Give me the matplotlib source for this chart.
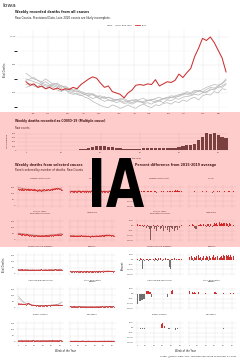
import numpy as np
import matplotlib
matplotlib.use("Agg")
import matplotlib.pyplot as plt
from matplotlib.patches import Rectangle, PathPatch
from matplotlib.textpath import TextPath
from matplotlib.font_manager import FontProperties
from matplotlib.transforms import Affine2D

# ---- all-cause weekly deaths, Iowa ----
weeks = list(range(1, 53))
month_labels = ["Jan", "Feb", "Mar", "Apr", "May", "Jun", "Jul", "Aug", "Sep", "Oct", "Nov", "Dec"]
month_weeks = [2.8, 6.6, 11.7, 15.8, 19.6, 24.7, 28.6, 32.4, 37.5, 41.3, 46.2, 50.2]

deaths_2020 = [680, 655, 665, 640, 650, 630, 640, 625, 635, 620, 630, 625, 640, 630, 660, 680, 700, 715,
               705, 670, 640, 650, 610, 600, 590, 565, 600, 620, 655, 660, 655, 665, 660, 695, 650, 665,
               680, 675, 690, 735, 710, 745, 775, 860, 920, 990, 975, 1000, 960, 905, 850, 750]
deaths_2015 = [700, 690, 680, 670, 660, 650, 640, 660, 650, 630, 620, 610, 600, 590, 580, 590, 575, 560,
               570, 555, 540, 550, 545, 530, 540, 525, 530, 520, 535, 540, 525, 530, 520, 540, 545, 530,
               550, 545, 560, 555, 570, 575, 580, 590, 585, 600, 610, 620, 630, 640, 650, 670]
deaths_2016 = [660, 670, 650, 640, 645, 630, 650, 640, 620, 610, 625, 600, 590, 600, 585, 570, 560, 540,
               525, 510, 500, 495, 515, 505, 490, 500, 515, 500, 490, 510, 520, 505, 495, 515, 510, 525,
               530, 520, 540, 530, 550, 540, 560, 570, 550, 580, 590, 585, 610, 600, 630, 625]
deaths_2017 = [740, 720, 700, 690, 670, 680, 660, 650, 640, 655, 630, 620, 610, 615, 600, 590, 600, 585,
               575, 580, 565, 570, 560, 550, 555, 560, 545, 550, 540, 555, 560, 545, 550, 560, 570, 555,
               565, 580, 575, 590, 585, 600, 595, 610, 620, 605, 625, 640, 635, 650, 665, 690]
deaths_2018 = [690, 700, 710, 690, 680, 700, 680, 660, 670, 650, 640, 630, 620, 610, 605, 590, 580, 590,
               570, 560, 575, 550, 540, 555, 545, 535, 540, 530, 545, 535, 540, 550, 545, 530, 550, 560,
               555, 570, 565, 580, 600, 590, 585, 600, 615, 610, 600, 630, 620, 645, 640, 660]
deaths_2019 = [640, 650, 660, 645, 670, 660, 650, 670, 660, 640, 650, 630, 620, 625, 610, 600, 590, 595,
               580, 570, 560, 570, 555, 545, 560, 550, 535, 545, 555, 540, 530, 545, 555, 550, 540, 560,
               570, 565, 580, 575, 590, 610, 600, 620, 610, 625, 640, 650, 660, 655, 670, 700]

# ---- COVID-19 weekly deaths ----
covid_2020 = [0, 0, 0, 0, 0, 0, 0, 0, 0, 0, 0, 2, 5, 10, 20, 35, 55, 75, 90, 95, 90, 85, 75, 55, 40, 30,
              25, 25, 30, 35, 40, 45, 45, 50, 55, 50, 45, 50, 60, 80, 100, 120, 130, 140, 250, 330, 420,
              400, 405, 360, 310, 295]

# ---- selected causes (2020 red, two earlier years gray) ----
heart_2020 = [135, 128, 132, 126, 130, 138, 125, 129, 133, 127, 131, 124, 136, 130, 128, 134, 126, 129, 132, 125,
              130, 127, 121, 128, 124, 130, 126, 122, 129, 125, 131, 127, 123, 130, 126, 132, 128, 124, 133, 129,
              135, 131, 138, 134, 140, 137, 142, 139, 136, 133, 130, 128]
heart_g1 = [150, 145, 148, 142, 140, 138, 136, 139, 134, 132, 135, 130, 128, 131, 126, 124, 127, 122, 125, 120,
            123, 118, 121, 119, 116, 120, 117, 119, 115, 118, 121, 117, 120, 123, 119, 122, 125, 121, 124, 127,
            130, 126, 129, 133, 131, 135, 138, 134, 140, 137, 142, 145]
heart_g2 = [142, 147, 140, 144, 138, 141, 135, 137, 133, 136, 130, 129, 132, 127, 125, 128, 123, 126, 121, 124,
            119, 122, 118, 121, 117, 115, 119, 116, 120, 118, 114, 117, 121, 119, 123, 120, 118, 124, 122, 126,
            124, 128, 127, 131, 129, 133, 136, 132, 138, 135, 139, 143]
heart_pct = [-3, 2, -5, 4, 1, 6, -2, 3, 5, -4, 2, -6, 8, 4, -1, 7, 3, -2, 5, -3, 6, 4, -8, 2, -5, 9, 3, -4, 6, -2,
             5, 1, -6, 4, 7, 3, -1, 5, 8, 2, 10, 6, 12, 9, 15, 11, 14, 10, 6, 4, -2, 3]

cancer_2020 = [112, 118, 115, 110, 117, 113, 119, 114, 111, 116, 120, 113, 117, 109, 115, 118, 112, 116, 110, 114,
               119, 113, 117, 111, 115, 120, 114, 108, 116, 112, 118, 113, 117, 110, 114, 119, 115, 111, 116, 113,
               118, 112, 117, 114, 110, 116, 119, 113, 117, 111, 115, 118]
cancer_g1 = [118, 114, 120, 116, 112, 119, 115, 117, 113, 118, 114, 121, 116, 112, 118, 115, 119, 113, 117, 120,
             114, 116, 112, 118, 115, 119, 113, 117, 114, 120, 116, 112, 118, 115, 119, 113, 117, 121, 115, 118,
             114, 120, 116, 113, 119, 115, 117, 121, 114, 118, 116, 120]
cancer_g2 = [114, 119, 113, 117, 121, 115, 118, 112, 116, 120, 113, 117, 115, 119, 111, 116, 118, 114, 120, 113,
             117, 115, 119, 112, 116, 121, 114, 118, 113, 117, 119, 115, 112, 118, 116, 120, 113, 117, 115, 119,
             112, 118, 116, 114, 120, 117, 113, 119, 115, 118, 121, 116]
cancer_pct = [-4, 3, -2, -6, 2, -3, 5, -1, -4, 2, 6, -5, 1, -7, -2, 4, -3, 2, -6, -1, 5, -3, 2, -5, 0, 4, -2, -8,
              3, -4, 2, -1, 3, -6, -2, 5, 1, -4, 2, -3, 4, -5, 1, -2, -7, 3, 5, -4, 2, -6, -18, 3]

clrd_2020 = [48, 44, 50, 42, 46, 40, 45, 43, 38, 41, 44, 36, 40, 35, 38, 33, 36, 34, 31, 35, 32, 36, 30, 34, 31, 33,
             29, 32, 35, 30, 33, 31, 34, 36, 32, 35, 33, 37, 34, 38, 36, 35, 39, 37, 41, 38, 42, 40, 43, 39, 41, 44]
clrd_g1 = [55, 52, 56, 50, 53, 49, 51, 47, 50, 45, 48, 44, 46, 42, 44, 40, 42, 39, 41, 37, 39, 36, 38, 35, 37, 34,
           36, 35, 33, 36, 34, 37, 35, 38, 36, 39, 37, 40, 38, 41, 40, 42, 41, 44, 43, 45, 47, 46, 49, 48, 51, 53]
clrd_g2 = [50, 54, 49, 52, 47, 51, 46, 49, 44, 47, 43, 45, 41, 44, 40, 42, 38, 40, 37, 39, 35, 38, 34, 36, 33, 35,
           34, 32, 35, 33, 36, 34, 37, 35, 38, 36, 39, 38, 41, 39, 42, 41, 43, 42, 45, 44, 46, 48, 47, 50, 49, 52]
clrd_pct = [15, 10, 20, 8, 12, -5, 10, -15, 6, -40, 8, -25, 4, -10, -30, -150, -20, -10, -45, 5, -30, -8, -55, 3,
            -15, -60, -10, -35, -20, 4, -50, -6, -25, -15, 8, -40, -12, -70, -8, -20, -35, -10, 6, -50, -25, -15,
            -45, -5, -20, -10, -30, 5]

alz_2020 = [34, 30, 33, 29, 35, 31, 28, 32, 30, 34, 29, 33, 31, 36, 32, 30, 34, 29, 33, 31, 28, 32, 30, 27, 31, 29,
            33, 30, 28, 32, 30, 34, 31, 29, 33, 35, 32, 36, 34, 38, 35, 39, 37, 41, 38, 36, 40, 37, 35, 38, 34, 33]
alz_g1 = [36, 33, 35, 32, 34, 31, 33, 30, 32, 29, 31, 30, 28, 30, 27, 29, 28, 26, 28, 27, 25, 27, 26, 28, 25, 27,
          26, 24, 26, 28, 25, 27, 26, 28, 27, 29, 28, 30, 29, 31, 30, 32, 31, 33, 32, 34, 33, 35, 34, 36, 35, 37]
alz_g2 = [32, 35, 31, 34, 30, 33, 29, 32, 30, 28, 31, 29, 27, 30, 28, 26, 29, 27, 25, 28, 26, 27, 25, 26, 28, 24,
          27, 25, 27, 26, 28, 25, 27, 29, 26, 28, 30, 27, 29, 31, 28, 30, 32, 29, 31, 33, 30, 32, 34, 31, 33, 35]
alz_pct = [5, -8, 10, -3, 15, 6, -20, -35, -30, -25, -10, 4, 12, 20, 8, -5, 18, -12, 25, 10, -8, 15, 20, -15, 22,
           12, 28, -10, 8, 25, 18, 30, 10, -5, 22, 35, 15, 28, 20, 30, 25, 35, 18, 28, 22, -10, 30, 15, -5, 20, 10, 12]

cere_2020 = [35, 31, 34, 30, 36, 32, 29, 33, 31, 35, 30, 34, 32, 28, 33, 31, 29, 34, 30, 32, 28, 33, 31, 29, 34, 30,
             32, 36, 31, 29, 33, 30, 34, 32, 28, 33, 31, 35, 30, 34, 32, 29, 33, 36, 31, 34, 30, 33, 35, 31, 34, 32]
cere_g1 = [36, 33, 35, 31, 34, 32, 30, 33, 35, 31, 32, 30, 33, 29, 31, 32, 30, 28, 31, 29, 32, 30, 28, 31, 29, 30,
           32, 28, 30, 31, 29, 32, 30, 31, 29, 32, 30, 33, 31, 32, 34, 31, 33, 32, 34, 33, 35, 32, 34, 36, 33, 35]
cere_g2 = [33, 36, 32, 34, 30, 33, 31, 29, 32, 30, 33, 31, 29, 31, 28, 30, 32, 29, 31, 28, 30, 29, 31, 27, 30, 28,
           31, 29, 30, 28, 31, 29, 32, 30, 31, 33, 29, 32, 31, 33, 30, 32, 34, 31, 33, 32, 35, 33, 34, 32, 35, 34]
cere_pct = [8, -5, 12, -10, 15, 3, -100, 6, -8, 12, -4, 10, 5, -15, 12, 4, -6, 15, -3, 10, -12, 14, 6, -8, 15, 3,
            -5, 18, 2, -10, 12, -3, 15, 8, -12, 10, 4, -80, -100, 6, 12, -5, 10, 15, -3, 8, -6, 12, 5, -8, 10, 6]

diab_2020 = [20, 17, 19, 22, 18, 16, 20, 18, 21, 17, 19, 23, 18, 20, 16, 19, 21, 17, 20, 18, 22, 19, 17, 21, 18, 20,
             16, 19, 22, 18, 20, 17, 21, 19, 23, 18, 20, 22, 19, 24, 21, 23, 20, 25, 22, 24, 21, 23, 20, 22, 19, 21]
diab_g1 = [19, 17, 18, 16, 19, 17, 18, 15, 17, 19, 16, 18, 15, 17, 16, 18, 15, 17, 16, 14, 17, 15, 16, 18, 15, 17,
           14, 16, 15, 17, 16, 18, 15, 17, 16, 18, 17, 15, 18, 16, 17, 19, 16, 18, 17, 19, 18, 17, 19, 18, 20, 19]
diab_g2 = [17, 19, 16, 18, 17, 15, 18, 16, 17, 15, 18, 16, 14, 17, 15, 16, 18, 15, 14, 16, 15, 17, 14, 16, 15, 13,
           16, 15, 17, 14, 16, 15, 17, 16, 14, 17, 16, 18, 15, 17, 16, 18, 17, 16, 18, 17, 19, 17, 18, 20, 18, 19]
diab_pct = [30, 10, 25, 40, 15, -10, 30, 20, 35, -5, 25, 45, 15, 30, -10, 20, 38, -5, 30, 15, 40, 25, -8, 35, 20, 30,
            -12, 25, 45, 18, 30, -6, 35, 25, 50, 20, 30, 40, 22, 55, 35, 45, 28, 55, 40, 50, 30, 45, 25, 40, 20, 35]

flu_2020 = [35, 32, 34, 30, 33, 29, 31, 28, 30, 27, 32, 36, 38, 35, 30, 26, 24, 22, 23, 20, 21, 19, 20, 18, 19, 17,
            18, 20, 17, 19, 18, 20, 19, 21, 18, 20, 22, 19, 21, 23, 20, 22, 24, 21, 23, 25, 22, 24, 21, 23, 20, 22]
flu_g1 = [95, 88, 80, 72, 65, 58, 50, 45, 40, 36, 33, 30, 28, 27, 25, 24, 23, 22, 21, 22, 20, 21, 19, 20, 19, 18,
          19, 20, 18, 19, 18, 20, 19, 20, 19, 21, 20, 22, 21, 23, 22, 24, 23, 25, 26, 28, 30, 32, 35, 38, 42, 48]
flu_g2 = [70, 75, 68, 62, 55, 50, 46, 42, 38, 35, 32, 30, 28, 27, 26, 24, 23, 22, 21, 20, 21, 19, 20, 18, 19, 18,
          20, 19, 18, 17, 19, 18, 20, 19, 21, 20, 22, 21, 23, 22, 24, 23, 25, 24, 26, 27, 29, 31, 33, 36, 40, 45]
flu_pct = [-105, -100, -80, -75, -72, -70, -66, -60, -55, -48,
           20, 28, 30, 26, 22, 18, -30, -25, None, None,
           None, None, None, None, None, None, None, None, None, None,
           None, None, None, None, None, -35, None, None, None, 30,
           35, -45, None, None, None, None, None, None, None, None,
           None, None]

oresp_2020 = [12, 10, 11, 9, 12, 10, 8, 11, 9, 10, 12, 9, 11, 8, 10, 9, 11, 8, 10, 9, 7, 10, 8, 9, 11, 8, 10, 9, 7,
              10, 8, 11, 9, 10, 8, 11, 9, 12, 10, 9, 11, 10, 12, 9, 11, 13, 10, 12, 11, 9, 12, 10]
oresp_g1 = [10, 9, 11, 8, 10, 9, 8, 10, 9, 7, 9, 8, 10, 8, 9, 7, 8, 9, 7, 8, 9, 7, 8, 6, 8, 7, 9, 7, 8, 6, 8, 7, 9,
            8, 7, 9, 8, 10, 8, 9, 7, 9, 8, 10, 9, 8, 10, 9, 11, 9, 10, 11]
oresp_g2 = [9, 11, 8, 10, 9, 10, 8, 9, 7, 9, 8, 9, 7, 8, 9, 7, 8, 6, 8, 7, 8, 7, 6, 8, 7, 8, 6, 8, 7, 8, 9, 7, 8, 6,
            8, 7, 9, 8, 9, 7, 8, 10, 8, 9, 10, 8, 9, 11, 9, 10, 9, 11]
oresp_pct = [25, 20, None, None, 15, 12, 18, 10, None, None,
             None, 20, None, None, None, None, None, None, None, 12,
             None, None, None, None, None, -8, None, None, None, 15,
             18, 12, None, None, None, None, None, None, None, 10,
             None, None, None, None, None, None, None, 8, None, -6,
             None, 10]

kidney_2020 = [9, 7, 10, 8, 11, 9, 7, 10, 8, 9, 11, 8, 10, 7, 9, 8, 10, 12, 8, 9, 7, 10, 8, 11, 9, 7, 10, 8, 9, 11,
               8, 10, 9, 7, 10, 8, 11, 9, 10, 8, 12, 9, 11, 8, 10, 9, 11, 8, 10, 12, 9, 10]
kidney_g1 = [10, 9, 8, 10, 9, 11, 8, 9, 10, 8, 9, 7, 9, 8, 10, 8, 9, 7, 8, 9, 8, 10, 7, 9, 8, 9, 7, 8, 10, 8, 9, 8,
             7, 9, 8, 10, 9, 8, 9, 10, 8, 9, 10, 9, 8, 10, 9, 11, 9, 10, 9, 10]
kidney_g2 = [8, 10, 9, 8, 10, 8, 9, 11, 8, 9, 8, 10, 8, 9, 7, 9, 8, 10, 9, 8, 7, 9, 8, 10, 8, 7, 9, 8, 9, 7, 10, 8,
             9, 10, 8, 9, 8, 10, 8, 9, 9, 10, 8, 9, 10, 8, 10, 9, 10, 8, 11, 9]
kidney_pct = [None, None, None, None, -8, None, -10, None, -12, None,
              None, None, None, None, None, None, None, None, None, None,
              None, None, None, None, None, None, None, None, 35, 45,
              None, 20, None, None, None, None, -15, -10, None, None,
              None, None, None, None, -20, None, -15, None, None, None,
              None, None]

sept_2020 = [6, 5, 7, 4, 6, 5, 8, 6, 5, 7, 4, 6, 5, 7, 6, 9, 5, 6, 4, 7, 5, 6, 8, 5, 6, 4, 7, 5, 6, 5, 7, 4, 6, 5,
             7, 6, 5, 8, 6, 5, 7, 6, 5, 7, 6, 8, 5, 6, 7, 5, 6, 7]
sept_g1 = [6, 7, 5, 6, 7, 5, 6, 5, 7, 6, 5, 6, 7, 5, 6, 5, 6, 7, 5, 6, 5, 6, 5, 7, 5, 6, 5, 6, 5, 7, 6, 5, 6, 5, 6,
           7, 5, 6, 5, 6, 7, 6, 5, 6, 7, 5, 6, 7, 6, 5, 7, 6]
sept_g2 = [7, 5, 6, 6, 5, 7, 5, 6, 6, 5, 7, 5, 6, 5, 7, 6, 5, 6, 6, 5, 6, 7, 5, 6, 5, 6, 6, 5, 7, 5, 6, 5, 7, 6, 5,
           6, 6, 5, 7, 6, 5, 6, 7, 5, 6, 6, 7, 5, 6, 7, 5, 6]
sept_pct = [None] * 39 + [-10] + [None] * 12

cause_names = ["Diseases of the Heart", "Cancer",
               "Chronic Lower\nRespiratory Diseases", "Alzheimer's",
               "Cerebrovascular Diseases", "Diabetes",
               "Influenza and Pneumonia", "Other Respiratory\nDisease",
               "Kidney Disease", "Septicemia"]
cause_2020 = [heart_2020, cancer_2020, clrd_2020, alz_2020, cere_2020,
              diab_2020, flu_2020, oresp_2020, kidney_2020, sept_2020]
cause_prior = [[heart_g1, heart_g2], [cancer_g1, cancer_g2], [clrd_g1, clrd_g2], [alz_g1, alz_g2],
               [cere_g1, cere_g2], [diab_g1, diab_g2], [flu_g1, flu_g2], [oresp_g1, oresp_g2],
               [kidney_g1, kidney_g2], [sept_g1, sept_g2]]
cause_pct = [heart_pct, cancer_pct, clrd_pct, alz_pct, cere_pct,
             diab_pct, flu_pct, oresp_pct, kidney_pct, sept_pct]

W, H = 240, 360
RED = "#cc3030"
GRAY = "#b8b8b8"
TXT = "#222222"

fig = plt.figure(figsize=(W / 100, H / 100), dpi=100)


def px_axes(x0, y0, x1, y1):
    return fig.add_axes([x0 / W, 1 - y1 / H, (x1 - x0) / W, (y1 - y0) / H])


def style(ax, fs=1.7):
    for s in ax.spines.values():
        s.set_visible(False)
    ax.tick_params(length=0, pad=0.8, labelsize=fs, colors="#444444")
    ax.grid(True, color="#e4e4e4", lw=0.3)
    ax.set_axisbelow(True)
    ax.patch.set_alpha(0)


def ftext(x, y, s, **kw):
    kw.setdefault("va", "center")
    kw.setdefault("color", TXT)
    fig.text(x / W, 1 - y / H, s, **kw)


# ---- header ----
ftext(2, 5.5, "Iowa", fontsize=4.2)
ftext(15, 12, "Weekly recorded deaths from all causes", fontsize=2.3, fontweight="bold")
ftext(15, 18.5, "Raw Counts, Provisional Data. Late 2020 counts are likely incomplete.", fontsize=2.0)

# ---- all-cause panel ----
ax = px_axes(17, 30, 228, 111)
style(ax, 1.6)
for series in [deaths_2015, deaths_2016, deaths_2017, deaths_2018, deaths_2019]:
    ax.plot(weeks, series, color=GRAY, lw=0.5)
ax.plot(weeks, deaths_2020, color=RED, lw=0.75)
ax.set_xlim(-1.3, 52.5)
ax.set_ylim(471, 1050)
ax.set_yticks([600, 800, 1000])
ax.set_yticklabels(["600", "800", "1,000"])
ax.set_yticks([500, 700, 900], minor=True)
ax.grid(True, which="minor", color="#f0f0f0", lw=0.25)
ax.set_xticks(month_weeks)
ax.set_xticklabels(month_labels)
ax.tick_params(axis="x", pad=1.6, labelsize=1.5)
ax.set_ylabel("Total Deaths", fontsize=1.8, labelpad=2, color=TXT)

# ---- COVID panel ----
ftext(15, 121, "Weekly deaths recorded as COVID-19 (Multiple cause)", fontsize=2.15, fontweight="bold")
ftext(15, 127.5, "Raw counts.", fontsize=1.8)
axc = px_axes(17, 132, 228, 151)
style(axc, 1.5)
axc.bar(weeks, covid_2020, width=0.85, color="#5a5050")
axc.set_xlim(-1.3, 52.5)
axc.set_ylim(-21, 441)
axc.set_yticks([0, 100, 200, 300, 400])
axc.set_xticks([1, 10, 20, 30, 40, 50])
axc.tick_params(axis="x", pad=0.6)
axc.set_ylabel("Total Deaths", fontsize=1.6, labelpad=2.5, color=TXT)
ftext(122, 158, "Week of the Year", fontsize=1.6)

# ---- selected causes ----
ftext(15, 165, "Weekly deaths from selected causes", fontsize=2.35, fontweight="bold")
ftext(15, 170.5, "Panels ordered by number of deaths. Raw Counts", fontsize=2.0)
ftext(135, 165, "Percent difference from 2015-2019 average", fontsize=2.35, fontweight="bold")

for i, name in enumerate(cause_names):
    row, col = divmod(i, 2)
    top = 185 + 34 * row
    bot = top + 23
    # counts
    lx = [16, 68][col]
    axl = px_axes(lx, top, lx + 48, bot)
    style(axl, 1.5)
    for prior in cause_prior[i]:
        axl.plot(range(1, len(prior) + 1), prior, color=GRAY, lw=0.4)
    vals = cause_2020[i]
    axl.plot(range(1, len(vals) + 1), vals, color=RED, lw=0.45,
             marker="o", ms=0.6, mew=0)
    axl.set_xlim(-1.55, 54.55)
    axl.set_ylim(-16, 166)
    axl.set_yticks([0, 50, 100, 150])
    axl.set_xticks([1, 10, 20, 30, 40, 50])
    if col == 1:
        axl.set_yticklabels([])
    if row < 4:
        axl.set_xticklabels([])
    ftext(lx + 24, top - 6.5, name, fontsize=1.35, ha="center", linespacing=0.9)

    # percent difference
    rx = [135, 187][col]
    axr = px_axes(rx, top, rx + 49, bot)
    style(axr, 1.5)
    pct = cause_pct[i]
    wk = [w for w, v in zip(range(1, len(pct) + 1), pct) if v is not None]
    pv = [v for v in pct if v is not None]
    axr.bar(wk, pv, width=0.8, color=[RED if v > 0 else "#707070" for v in pv])
    axr.set_xlim(-1.55, 54.55)
    axr.set_ylim(-171, 71)
    axr.set_yticks([-150, -100, -50, 0, 50])
    axr.set_yticklabels(["-150%", "-100%", "-50%", "0%", "50%"])
    axr.set_xticks([1, 10, 20, 30, 40, 50])
    if col == 1:
        axr.set_yticklabels([])
    if row < 4:
        axr.set_xticklabels([])
    ftext(rx + 24.5, top - 6.5, name, fontsize=1.35, ha="center", linespacing=0.9)

ftext(4, 265, "Total Deaths", fontsize=1.8, rotation=90, ha="center")
ftext(123, 265, "Percent", fontsize=1.8, rotation=90, ha="center")
ftext(65, 351, "Week of the Year", fontsize=1.8, ha="center")
ftext(185, 351, "Week of the Year", fontsize=1.8, ha="center")
ftext(237, 356, "Graph: @kjhealy Data: CDC. This graph was made on February 21, 2021.",
      fontsize=1.5, ha="right")

# ---- overlay: legend, pink band, state label ----
ov = fig.add_axes([0, 0, 1, 1], zorder=10)
ov.set_xlim(0, W)
ov.set_ylim(H, 0)
ov.axis("off")
ov.text(107, 25, "Years:", fontsize=1.4, va="center", color=TXT)
ov.plot([115, 120], [25, 25], color=GRAY, lw=0.6)
ov.text(122, 25, "2015-2019", fontsize=1.4, va="center", color=TXT)
ov.plot([135, 140], [25, 25], color=RED, lw=0.6)
ov.text(141.5, 25, "2020", fontsize=1.4, va="center", color=TXT)

ov.add_patch(Rectangle((0, 112), W, 135, facecolor="#ff0000", alpha=0.2, lw=0, zorder=1))

tp = TextPath((0, 0), "IA", size=1, prop=FontProperties(family="DejaVu Sans", weight="bold"))
bb = tp.get_extents()
tr = (Affine2D().translate(-bb.x0, -bb.y0)
      .scale((144 - 92) / bb.width, -(207 - 158) / bb.height)
      .translate(92, 207))
ov.add_patch(PathPatch(tr.transform_path(tp), facecolor="black", lw=0, zorder=5))

fig.savefig("out.png", dpi=100)
